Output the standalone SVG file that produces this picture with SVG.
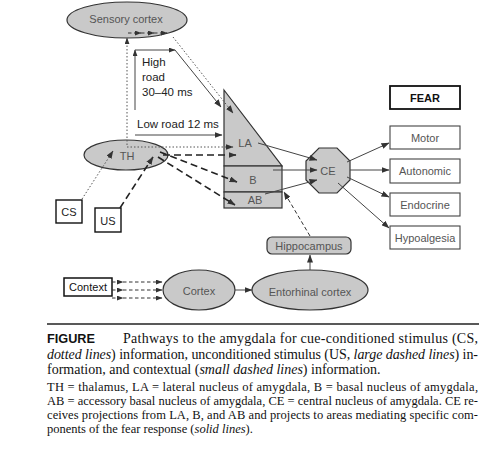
<svg xmlns="http://www.w3.org/2000/svg" width="498" height="449" viewBox="0 0 498 449">
<defs>
<marker id="arr" viewBox="0 0 8 6" refX="7.5" refY="3" markerWidth="8" markerHeight="6" markerUnits="userSpaceOnUse" orient="auto"><path d="M0,0 L8,3 L0,6 z" fill="#333"/></marker>
<marker id="arrs" viewBox="0 0 8 6" refX="7.5" refY="3" markerWidth="7" markerHeight="5" markerUnits="userSpaceOnUse" orient="auto"><path d="M0,0 L8,3 L0,6 z" fill="#333"/></marker>
</defs>
<style>
.n{fill:#c9c9c9;stroke:#333;stroke-width:1.2}
.b{fill:#fff;stroke:#444;stroke-width:1.1}
.t{font-family:"Liberation Sans",Arial,sans-serif;font-size:11px;fill:#555;text-anchor:middle;dominant-baseline:central}
.tk{font-family:"Liberation Sans",Arial,sans-serif;font-size:11.5px;fill:#222}
.solid{stroke:#444;stroke-width:1;fill:none}
.dot{stroke:#555;stroke-width:1;stroke-dasharray:1.5 2;fill:none}
.big{stroke:#222;stroke-width:1.6;stroke-dasharray:7 4;fill:none}
.med{stroke:#333;stroke-width:1;stroke-dasharray:4 2.5;fill:none}
.sm{stroke:#333;stroke-width:1;stroke-dasharray:3.5 2.5;fill:none}
.cap{font-family:"Liberation Serif","Times New Roman",serif;fill:#111}
</style>
<rect width="498" height="449" fill="#fff"/>

<g id="sensory-cortex"><ellipse class="n" cx="127" cy="20" rx="60" ry="18"/><text class="t" x="126" y="19">Sensory cortex</text></g>
<g id="TH"><ellipse class="n" cx="126" cy="155" rx="42" ry="15"/><text class="t" x="127" y="156">TH</text></g>
<g id="CS"><rect class="b" x="56" y="200" width="26" height="23" style="stroke:#111;stroke-width:1.4"/><text class="t" x="69" y="212" style="fill:#222">CS</text></g>
<g id="US"><rect class="b" x="95" y="208" width="26" height="24" style="stroke:#111;stroke-width:1.4"/><text class="t" x="108" y="221" style="fill:#222">US</text></g>
<g id="LA"><polygon class="n" points="224,90 282,166 224,166"/><text class="t" x="245" y="143">LA</text></g>
<g id="B"><rect class="n" x="224" y="166" width="58" height="26"/><text class="t" x="253" y="180">B</text></g>
<g id="AB"><rect class="n" x="224" y="192" width="58" height="16"/><text class="t" x="255" y="200">AB</text></g>
<g id="CE"><polygon class="n" points="319,148 337,148 350,161 350,180 337,193 319,193 306,180 306,161"/><text class="t" x="328" y="171">CE</text></g>
<g id="FEAR"><rect class="b" x="390" y="86" width="70" height="23" style="stroke:#111;stroke-width:1.8"/><text class="t" x="425" y="98" style="fill:#111;font-weight:bold">FEAR</text></g>
<g id="Motor"><rect class="b" x="390" y="126" width="70" height="23"/><text class="t" x="425" y="138">Motor</text></g>
<g id="Autonomic"><rect class="b" x="390" y="159" width="70" height="24"/><text class="t" x="425" y="171">Autonomic</text></g>
<g id="Endocrine"><rect class="b" x="390" y="193" width="70" height="23"/><text class="t" x="425" y="205">Endocrine</text></g>
<g id="Hypoalgesia"><rect class="b" x="390" y="226" width="70" height="23"/><text class="t" x="425" y="238">Hypoalgesia</text></g>
<g id="Hippocampus"><rect class="n" x="267" y="237" width="84" height="17" rx="5"/><text class="t" x="309" y="246">Hippocampus</text></g>
<g id="Cortex"><ellipse class="n" cx="199" cy="290" rx="36" ry="20"/><text class="t" x="199" y="291">Cortex</text></g>
<g id="Entorhinal"><ellipse class="n" cx="310" cy="290" rx="58" ry="20"/><text class="t" x="310" y="292">Entorhinal cortex</text></g>
<g id="Context"><rect class="b" x="64" y="278" width="48" height="18" style="stroke:#111;stroke-width:1.5"/><text class="t" x="88" y="287" style="fill:#111">Context</text></g>

<g id="labels">
<text class="tk" x="142" y="66">High</text>
<text class="tk" x="142" y="81">road</text>
<text class="tk" x="142" y="96">30–40 ms</text>
<text class="tk" x="137" y="128">Low road 12 ms</text>
</g>

<g id="connectors">
<path class="dot" d="M82,199 L113,151" marker-end="url(#arr)"/>
<path class="big" d="M120,208 L153,157" marker-end="url(#arr)"/>
<path class="dot" d="M127,145 L127,38" marker-end="url(#arrs)"/>
<path class="dot" d="M127,147 L233,147" marker-end="url(#arr)"/>
<path class="big" d="M163,155 L236,155" marker-end="url(#arr)"/>
<path class="big" d="M160,152 L237,182" marker-end="url(#arr)"/>
<path class="big" d="M158,157 L235,205" marker-end="url(#arr)"/>
<path class="solid" d="M135,110 L135,50" marker-end="url(#arrs)"/>
<path class="solid" d="M135,50 L175,50" marker-end="url(#arrs)"/>
<path class="solid" d="M175,50 L221,107" marker-end="url(#arr)"/>
<path class="dot" d="M173,37 L233,113" marker-end="url(#arr)"/>
<path class="solid" d="M135,135 L222,135" marker-end="url(#arr)"/>
<path class="sm" d="M128,33 L141,33" marker-end="url(#arrs)"/>
<path class="sm" d="M141,33 L154,33" marker-end="url(#arrs)"/>
<path class="sm" d="M154,33 L167,33" marker-end="url(#arrs)"/>
<path class="solid" d="M258,143 L317,160" marker-end="url(#arr)"/>
<path class="solid" d="M273,170 L317,170" marker-end="url(#arr)"/>
<path class="solid" d="M265,194 L317,180" marker-end="url(#arr)"/>
<path class="solid" d="M347,162 L389,143" marker-end="url(#arr)"/>
<path class="solid" d="M350,170 L389,170" marker-end="url(#arr)"/>
<path class="solid" d="M347,177 L389,197" marker-end="url(#arr)"/>
<path class="solid" d="M338,183 L389,228" marker-end="url(#arr)"/>
<path class="sm" d="M112,282 L123,282" marker-end="url(#arrs)"/>
<path class="sm" d="M123,282 L162,282" marker-end="url(#arrs)"/>
<path class="sm" d="M112,290 L123,290" marker-end="url(#arrs)"/>
<path class="sm" d="M123,290 L162,290" marker-end="url(#arrs)"/>
<path class="sm" d="M112,298 L123,298" marker-end="url(#arrs)"/>
<path class="sm" d="M123,298 L162,298" marker-end="url(#arrs)"/>
<path class="solid" d="M235,290 L252,290" marker-end="url(#arr)"/>
<path class="solid" d="M310,270 L310,255" marker-end="url(#arr)"/>
<path class="med" d="M310,236 L284,192" marker-end="url(#arr)"/>
</g>

<g id="caption">
<line x1="47" y1="324" x2="479" y2="324" stroke="#222" stroke-width="1.6"/>
<text x="47" y="343" style="font-family:'Liberation Sans',Arial,sans-serif;font-weight:bold;font-size:12.5px;fill:#111" textLength="48" lengthAdjust="spacingAndGlyphs">FIGURE</text>
<text class="cap" x="123" y="343" font-size="14" textLength="355" lengthAdjust="spacing">Pathways to the amygdala for cue-conditioned stimulus (CS,</text>
<text class="cap" x="47" y="359" font-size="14" textLength="431" lengthAdjust="spacing"><tspan font-style="italic">dotted lines</tspan>) information, unconditioned stimulus (US, <tspan font-style="italic">large dashed lines</tspan>) in-</text>
<text class="cap" x="47" y="374" font-size="14">formation, and contextual (<tspan font-style="italic">small dashed lines</tspan>) information.</text>
<text class="cap" x="47" y="391" font-size="12.5" textLength="431" lengthAdjust="spacing">TH = thalamus, LA = lateral nucleus of amygdala, B = basal nucleus of amygdala,</text>
<text class="cap" x="47" y="405" font-size="12.5" textLength="431" lengthAdjust="spacing">AB = accessory basal nucleus of amygdala, CE = central nucleus of amygdala. CE re-</text>
<text class="cap" x="47" y="419" font-size="12.5" textLength="431" lengthAdjust="spacing">ceives projections from LA, B, and AB and projects to areas mediating specific com-</text>
<text class="cap" x="47" y="433" font-size="12.5">ponents of the fear response (<tspan font-style="italic">solid lines</tspan>).</text>
</g>
</svg>
